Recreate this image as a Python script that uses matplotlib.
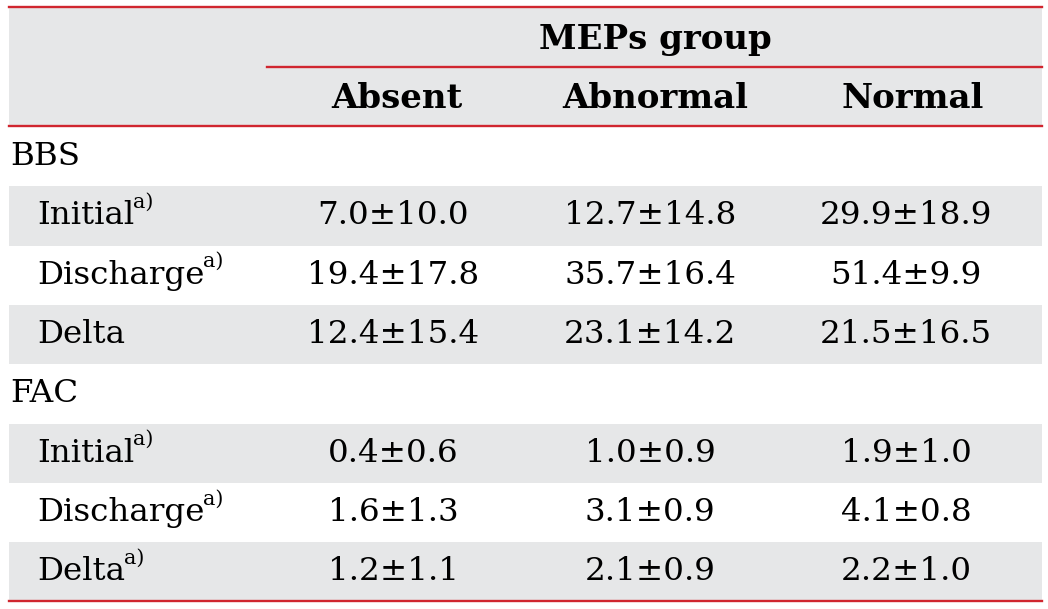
import matplotlib
matplotlib.use('Agg')
import matplotlib.pyplot as plt
from matplotlib.patches import Rectangle

# table content
spanner = 'MEPs group'
groups = ['Absent', 'Abnormal', 'Normal']
sections = ['BBS', 'FAC']
row_labels = ['Initial', 'Discharge', 'Delta']
bbs_sup = [True, True, False]
fac_sup = [True, True, True]
bbs_vals = [['7.0\u00b110.0', '12.7\u00b114.8', '29.9\u00b118.9'],
            ['19.4\u00b117.8', '35.7\u00b116.4', '51.4\u00b19.9'],
            ['12.4\u00b115.4', '23.1\u00b114.2', '21.5\u00b116.5']]
fac_vals = [['0.4\u00b10.6', '1.0\u00b10.9', '1.9\u00b11.0'],
            ['1.6\u00b11.3', '3.1\u00b10.9', '4.1\u00b10.8'],
            ['1.2\u00b11.1', '2.1\u00b10.9', '2.2\u00b11.0']]

red = '#d0262f'
grey = '#e6e7e8'
plt.rcParams['font.family'] = ['DejaVu Serif']
fs = 23.4       # body text
fs_head = 24.5  # bold header

fig = plt.figure(figsize=(10.48, 6.09), dpi=100)
ax = fig.add_axes([0, 0, 1, 1])
ax.set_xlim(0, 1048)
ax.set_ylim(609, 0)
ax.axis('off')

x0, x1 = 9, 1042
col_x = [393, 650, 906]
rh = 59.3

# header block
ax.add_patch(Rectangle((x0, 7), x1 - x0, 119, color=grey, lw=0))
ax.plot([x0, x1], [7, 7], color=red, lw=1.7)
ax.plot([267, x1], [67, 67], color=red, lw=1.7)
ax.plot([x0, x1], [126, 126], color=red, lw=1.7)
ax.text(655, 40, spanner, ha='center', va='center', fontsize=fs_head, fontweight='bold')
for x, g in zip([397, 655, 913], groups):
    ax.text(x, 98, g, ha='center', va='center', fontsize=fs_head, fontweight='bold')

renderer = fig.canvas.get_renderer()
y = 127
for sec, vals, sups in [(sections[0], bbs_vals, bbs_sup), (sections[1], fac_vals, fac_sup)]:
    ax.text(10, y + rh / 2, sec, ha='left', va='center', fontsize=fs)
    y += rh
    for i, (lab, sup) in enumerate(zip(row_labels, sups)):
        if i % 2 == 0:
            ax.add_patch(Rectangle((x0, y), x1 - x0, rh, color=grey, lw=0))
        yc = y + rh / 2
        t = ax.text(37, yc, lab, ha='left', va='center', fontsize=fs)
        if sup:
            bb = t.get_window_extent(renderer).transformed(ax.transData.inverted())
            ax.text(bb.x1 - 1, yc - 4, 'a)', ha='left', va='bottom', fontsize=fs * 0.64)
        for x, v in zip(col_x, vals[i]):
            ax.text(x, yc, v, ha='center', va='center', fontsize=fs)
        y += rh

ax.plot([x0, x1], [601, 601], color=red, lw=1.7)

fig.savefig('out.png', dpi=100)
